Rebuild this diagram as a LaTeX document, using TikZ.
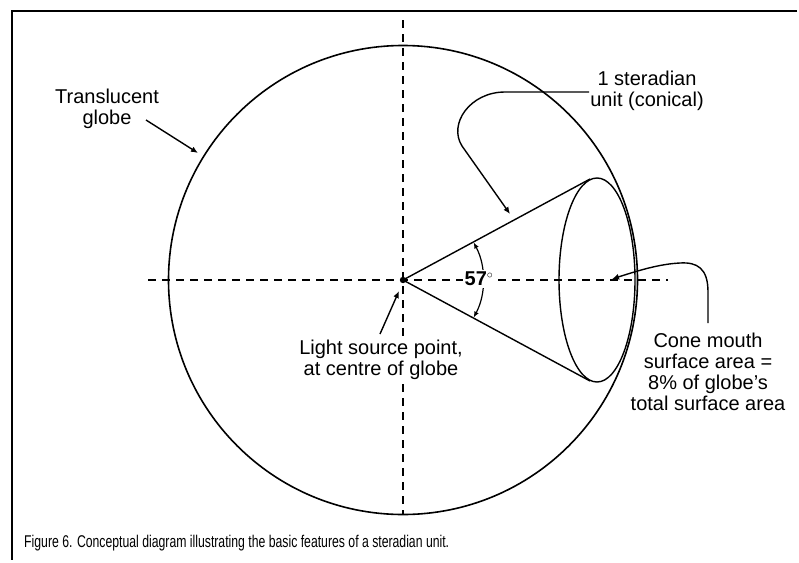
\documentclass[tikz,border=0pt]{standalone}
\usepackage{fontspec}
\setmainfont{Liberation Sans}
\newfontfamily\capfont[FakeStretch=0.72]{Liberation Sans}
\usetikzlibrary{arrows.meta, positioning, calc}

\begin{document}
\begin{tikzpicture}[
    x=1pt, y=-1pt,
    lbl/.style={align=center, font=\fontsize{20}{21}\selectfont, inner sep=1pt},
    globeline/.style={line width=1.6pt},
    coneline/.style={line width=1.4pt},
    axis/.style={line width=1.1pt, dash pattern=on 8pt off 6pt},
    leader/.style={line width=1.4pt, -{Latex[length=7pt,width=6pt]}},
    anglearc/.style={line width=1.2pt,
        {Latex[length=6pt,width=5pt]}-{Latex[length=6pt,width=5pt]}},
    frame/.style={line width=2.6pt}
]
\useasboundingbox (0,0) rectangle (799,562);
% frame, top and left edge only
\draw[frame] (797,11) -- (12,11) -- (12,560);

% globe and its axes
\coordinate (src) at (403,280);
\draw[globeline] (src) circle[radius=234.5];
\draw[axis] (148,280) -- (668,280);
\draw[axis] (403,20) -- (403,515);

% cone
\coordinate (conetop) at (590,179);
\coordinate (conebot) at (590,381);
\draw[coneline] (597,280) ellipse[x radius=38, y radius=102];
\draw[coneline] (conetop) -- (src) -- (conebot);
\fill (src) circle[radius=3.2];
\draw[anglearc] ($(src)+(-28:80)$) arc[start angle=-28, end angle=28, radius=80];
\node[lbl, fill=white, inner sep=2pt, font=\bfseries\fontsize{20}{21}\selectfont]
    (angle) at (479,279) {57\textsuperscript{\fontsize{13}{13}\selectfont$\circ$}};

% labels
\node[lbl] (globelbl) at (107,109) {Translucent\\globe};
\node[lbl] (sterlbl) at (647,91) {1 steradian\\unit (conical)};
\node[lbl, fill=white] (lightlbl) at (381,360) {Light source point,\\at centre of globe};
\node[lbl] (mouthlbl) at (708,372)
    {Cone mouth\\surface area =\\8\% of globe's\\total surface area};

% leaders
\coordinate (globetip) at (198,153);
\coordinate (stertip) at (510,214);
\coordinate (lightfoot) at (380,334);
\coordinate (mouthfoot) at (708,323);
\coordinate (mouthtip) at (612,279);
\draw[leader] (146,120) -- (globetip);
\draw[leader] (sterlbl.west |- 0,92) -- (505,92)
    .. controls (470,92) and (448,124) .. (462,146) -- (stertip);
\draw[leader] (lightfoot) -- ($(src)+(-4,11)$);
\draw[leader] (mouthfoot) -- (708,292)
    .. controls (708,268) and (697,262) .. (680,263)
    .. controls (660,264) and (640,270) .. (mouthtip);

% caption
\node[anchor=west, inner sep=0pt, font=\capfont\fontsize{17}{19}\selectfont]
    (caption) at (24,543)
    {Figure 6. Conceptual diagram illustrating the basic features of a steradian unit.};
\end{tikzpicture}
\end{document}
